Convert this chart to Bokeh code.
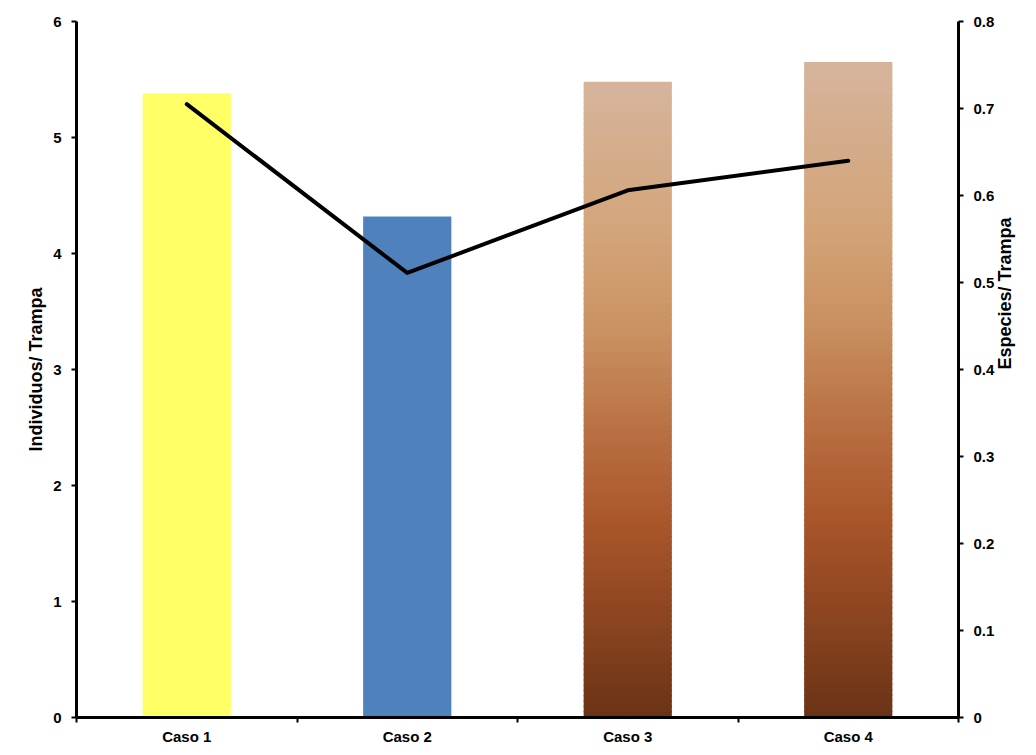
import math
from bokeh.plotting import figure
from bokeh.models import Range1d, LinearAxis, FixedTicker
from bokeh.embed import file_html
from bokeh.resources import INLINE

# ---- data ----
categories = ["Caso 1", "Caso 2", "Caso 3", "Caso 4"]
individuos = [5.38, 4.32, 5.48, 5.65]          # left axis (bars)
especies = [0.705, 0.511, 0.606, 0.640]        # right axis (line)
left_ticks = [0, 1, 2, 3, 4, 5, 6]
right_ticks = [0, 0.1, 0.2, 0.3, 0.4, 0.5, 0.6, 0.7, 0.8]

# bar fills: solid colours, or None for gradient bars
solid_colors = ["#FFFF66", "#4F81BD", None, None]
# gradient stops (fraction of bar height from bottom, RGB)
grad_stops = [
    (0.00, (106, 51, 21)),
    (0.15, (138, 68, 32)),
    (0.30, (169, 85, 42)),
    (0.45, (185, 112, 66)),
    (0.60, (201, 144, 96)),
    (0.75, (211, 164, 120)),
    (1.00, (214, 180, 156)),
]

FONT = "Liberation Sans"

p = figure(width=1028, height=747, output_backend="svg", toolbar_location=None,
           x_range=Range1d(0, 4), y_range=Range1d(0, 6),
           min_border_left=76, min_border_right=66, min_border_top=21,
           min_border_bottom=29)
p.outline_line_color = None
p.xgrid.visible = False
p.ygrid.visible = False
p.background_fill_color = "white"
p.border_fill_color = "white"

xs = [i + 0.5 for i in range(len(categories))]
bw = 0.4


def interp(f):
    for (f0, c0), (f1, c1) in zip(grad_stops[:-1], grad_stops[1:]):
        if f0 <= f <= f1:
            t = (f - f0) / (f1 - f0) if f1 > f0 else 0
            return "#%02x%02x%02x" % tuple(int(round(a + (b - a) * t)) for a, b in zip(c0, c1))
    return "#%02x%02x%02x" % grad_stops[-1][1]


for x, v, col in zip(xs, individuos, solid_colors):
    if col is not None:
        p.vbar(x=x, width=bw, bottom=0, top=v, fill_color=col, line_color=None)
    else:
        n = 120
        bots = [v * k / n for k in range(n)]
        tops = [v * (k + 1) / n + (v * 0.002 if k < n - 1 else 0) for k in range(n)]
        cols = [interp((k + 0.5) / n) for k in range(n)]
        p.vbar(x=[x] * n, width=bw, bottom=bots, top=tops, fill_color=cols, line_color=None)

# right axis
p.extra_y_ranges = {"esp": Range1d(0, 0.8)}
p.line(xs, especies, y_range_name="esp", line_color="black", line_width=4,
       line_cap="round", line_join="round")

# x axis
xa = p.xaxis[0]
xa.ticker = FixedTicker(ticks=xs, minor_ticks=[0, 1, 2, 3, 4])
xa.major_label_overrides = {x: c for x, c in zip(xs, categories)}
xa.major_tick_out = 0
xa.major_tick_in = 0
xa.minor_tick_out = 5
xa.minor_tick_in = 0
xa.minor_tick_line_width = 2
xa.axis_line_width = 3
xa.major_label_standoff = 5
xa.major_label_text_font = FONT
xa.major_label_text_font_style = "bold"
xa.major_label_text_font_size = "15px"
xa.major_label_text_color = "black"

# left axis
ya = p.yaxis[0]
ya.ticker = FixedTicker(ticks=left_ticks, minor_ticks=[])
ya.axis_label = "Individuos/ Trampa"

ra = LinearAxis(y_range_name="esp", ticker=FixedTicker(ticks=right_ticks, minor_ticks=[]),
                axis_label="Especies/ Trampa")
p.add_layout(ra, "right")
ra.axis_label_orientation = math.pi / 2
ra.axis_label_text_baseline = "top"

for ax in (ya, ra):
    ax.axis_line_width = 3
    ax.major_tick_out = 5
    ax.major_tick_in = 0
    ax.major_tick_line_width = 2
    ax.minor_tick_out = 0
    ax.minor_tick_in = 0
    ax.major_label_standoff = 10
    ax.major_label_text_font = FONT
    ax.major_label_text_font_style = "bold"
    ax.major_label_text_font_size = "15px"
    ax.major_label_text_color = "black"
    ax.axis_label_text_font = FONT
    ax.axis_label_text_font_style = "bold"
    ax.axis_label_text_font_size = "18px"
    ax.axis_label_text_color = "black"
ya.axis_label_standoff = 4
ra.axis_label_standoff = 8

open("out.html", "w").write(file_html(p, INLINE))
